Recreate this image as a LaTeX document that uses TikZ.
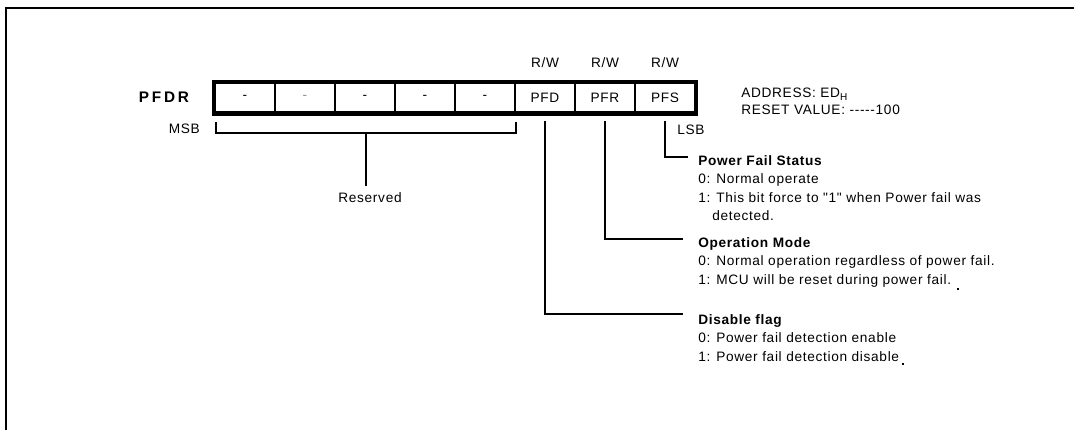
\documentclass[tikz,border=0pt]{standalone}
\usepackage{fontspec}
\setmainfont{Liberation Sans}[LetterSpace=5,Ligatures=TeXOff]
\newfontfamily\titlefont{Liberation Sans}[LetterSpace=18,Ligatures=TeXOff]
\begin{document}
\begin{tikzpicture}[x=0.75pt,y=-0.75pt,
  txt/.style={inner sep=0pt,font=\fontsize{10.25}{13.9}\selectfont},
  desc/.style={txt,anchor=north west,align=left},
  cell/.style={draw,line width=2.2pt,minimum width=45pt,minimum height=22pt,inner sep=0pt,font=\fontsize{10.25}{12}\selectfont},
  conn/.style={line width=1.5pt},
  frame/.style={line width=1.6pt}]
\useasboundingbox (0,0) rectangle (1074,430);
% frame
\draw[frame] (6,430) -- (6,8) -- (1074,8);
% title
\node[txt,font=\titlefont\fontsize{11.5}{12}\selectfont\bfseries] (title) at (164,97.5) {PFDR};
% cells
\node[cell] (b7) at (245,97.5) {-};
\node[cell] (b6) at (305,97.5) {\textcolor{black!45}{-}};
\node[cell] (b5) at (365,97.5) {-};
\node[cell] (b4) at (425,97.5) {-};
\node[cell] (b3) at (485,97.5) {-};
\node[cell] (b2) at (545,97.5) {PFD};
\node[cell] (b1) at (605,97.5) {PFR};
\node[cell] (b0) at (665,97.5) {PFS};
\draw[line width=2.8pt] (b7.north west) rectangle (b0.south east);
% R/W
\node[txt] (rw2) at (545,63) {R/W};
\node[txt] (rw1) at (605,63) {R/W};
\node[txt] (rw0) at (665,63) {R/W};
% address
\node[txt,anchor=north west,align=left,font=\fontsize{10.25}{12.75}\selectfont] (addr) at (741,88)
  {ADDRESS: ED\raisebox{-2pt}{\fontsize{7.5}{8}\selectfont H}\\RESET VALUE: -----100};
% MSB / LSB
\node[txt,anchor=east] (msb) at (200,129) {MSB};
\node[txt,anchor=west] (lsb) at (677,130) {LSB};
% reserved bracket
\coordinate (rL) at (216,122);
\coordinate (rR) at (516,122);
\coordinate (rM) at (366,133);
\node[txt] (reserved) at (370,198) {Reserved};
\draw[conn] (rL) |- (rM) -| (rR);
\draw[conn] (rM) -- (366,186) coordinate (rE);
% descriptions
\node[desc] (pfsdesc) at (698,155) {\textbf{Power Fail Status}\\0: Normal operate\\1: This bit force to "1" when Power fail was\\\hspace*{10.5pt}detected.};
\node[desc] (pfrdesc) at (698,237) {\textbf{Operation Mode}\\0: Normal operation regardless of power fail.\\1: MCU will be reset during power fail.};
\node[desc] (pfddesc) at (698,314) {\textbf{Disable flag}\\0: Power fail detection enable\\1: Power fail detection disable};
% connectors
\coordinate (ePFS) at (688,157);
\coordinate (ePFR) at (683,239);
\coordinate (ePFD) at (683,314);
\draw[conn] ([yshift=-5.5pt]b0.south) |- (ePFS);
\draw[conn] ([yshift=-5.5pt]b1.south) |- (ePFR);
\draw[conn] ([yshift=-5.5pt]b2.south) |- (ePFD);
% stray dots
\fill (957,288) rectangle (959,290);
\fill (902,363) rectangle (904,365);
\end{tikzpicture}
\end{document}
